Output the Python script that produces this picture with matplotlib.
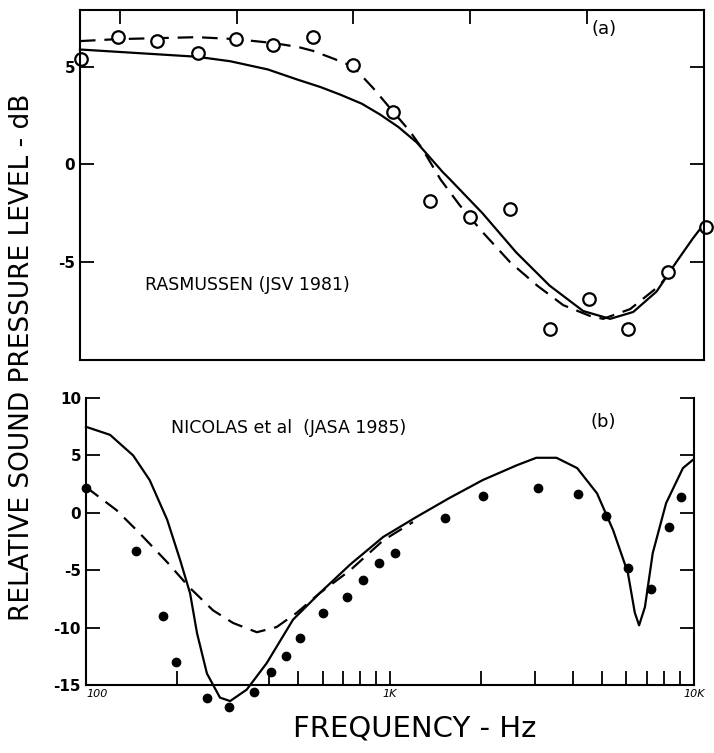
import numpy as np
import matplotlib
matplotlib.use("Agg")
from matplotlib import pyplot as plt

# panel (a) - Rasmussen
a_pts_f = [101, 132, 176, 239, 316, 416, 558, 750, 1007, 1323, 1774, 2387, 3203, 4275, 5690, 7660, 10150]
a_pts_v = [5.4, 6.5, 6.3, 5.7, 6.4, 6.1, 6.5, 5.1, 2.7, -1.9, -2.7, -2.3, -8.4, -6.9, -8.4, -5.5, -3.2]

a_solid_f = [100, 237, 303, 400, 496, 590, 681, 800, 915, 1050, 1200, 1455, 1530, 1950, 2500, 3200, 4100, 5000, 5930, 7050, 8150, 9200, 10050]
a_solid_v = [5.87, 5.5, 5.27, 4.85, 4.34, 3.95, 3.57, 3.1, 2.55, 1.9, 1.12, -0.4, -0.75, -2.5, -4.5, -6.2, -7.5, -7.9, -7.55, -6.5, -5.0, -3.8, -3.0]

a_dash_f = [100, 132, 237, 316, 416, 500, 558, 650, 750, 870, 1007, 1140, 1250, 1430, 1650, 1960, 2390, 2920, 3540, 4310, 4750, 5800, 7200, 7800]
a_dash_v = [6.3, 6.4, 6.5, 6.4, 6.2, 6.0, 5.8, 5.4, 5.0, 3.9, 2.7, 1.7, 0.8, -0.77, -2.1, -3.5, -5.0, -6.2, -7.2, -7.75, -7.9, -7.4, -6.2, -5.5]

# panel (b) - Nicolas et al
b_pts_f = [100, 146, 179, 198, 250, 295, 357, 406, 455, 506, 601, 720, 815, 922, 1040,
           1515, 2030, 3080, 4160, 5130, 6060, 7200, 8260, 9100]
b_pts_v = [2.2, -3.3, -9.0, -13.0, -16.1, -16.9, -15.6, -13.9, -12.5, -10.9, -8.7, -7.3, -5.85, -4.4, -3.5,
           -0.43, 1.46, 2.16, 1.64, -0.28, -4.8, -6.6, -1.2, 1.4]

b_solid_f = [100, 120, 143, 162, 185, 204, 220, 232, 250, 276, 298, 338, 393, 480, 587, 740, 950, 1220,
             1570, 2020, 2620, 3030, 3530, 4130, 4800, 5420, 6060, 6390, 6600, 6900, 7320, 8100, 9200, 9900]
b_solid_v = [7.5, 6.8, 5.0, 2.86, -0.6, -4.1, -7.0, -10.5, -14.0, -16.1, -16.4, -15.4, -13.1, -9.3, -7.0, -4.5, -2.1, -0.37,
             1.3, 2.86, 4.16, 4.8, 4.8, 3.9, 1.7, -1.5, -5.2, -8.7, -9.8, -8.2, -3.5, 0.85, 3.9, 4.6]

b_dash_f = [100, 126, 150, 185, 220, 262, 305, 365, 424, 494, 587, 740, 950, 1190]
b_dash_v = [2.25, 0.24, -1.76, -4.3, -6.55, -8.5, -9.6, -10.4, -9.95, -8.7, -7.0, -5.0, -2.4, -0.8]

fig = plt.figure(figsize=(7.14, 7.53), dpi=100)
plt.rcParams['font.family'] = ['DejaVu Sans']

dash = (0, (7, 4))

# ---- top panel (a)
ax1 = fig.add_axes([0.112, 0.522, 0.874, 0.465])
ax1.set_xscale('log')
ax1.set_xlim(100, 10000)
ax1.set_ylim(-10, 7.9)
ax1.plot(a_solid_f, a_solid_v, color='black', lw=1.6, clip_on=False)
ax1.plot(a_dash_f, a_dash_v, color='black', lw=1.6, linestyle=dash)
ax1.plot(a_pts_f, a_pts_v, 'o', mfc='white', mec='black', mew=1.6, ms=9, clip_on=False)
ax1.set_yticks([5, 0, -5])
ax1.set_yticklabels(['5', '0', '-5'], fontsize=11, fontweight='bold')
ax1.tick_params(axis='y', direction='in', length=10, width=1.3, right=True)
ax1.set_xticks([134, 318, 750, 1778, 4217])
ax1.set_xticks([], minor=True)
ax1.set_xticklabels([])
ax1.tick_params(axis='x', direction='in', length=10, width=1.3, top=True, bottom=False)
for s in ax1.spines.values():
    s.set_linewidth(1.5)
ax1.text(0.82, 0.93, '(a)', transform=ax1.transAxes, fontsize=13)
ax1.text(0.105, 0.2, 'RASMUSSEN (JSV 1981)', transform=ax1.transAxes, fontsize=12.5)

# ---- bottom panel (b)
ax2 = fig.add_axes([0.1204, 0.0903, 0.8515, 0.381])
ax2.set_xscale('log')
ax2.set_xlim(100, 10000)
ax2.set_ylim(-15, 10)
ax2.plot(b_solid_f, b_solid_v, color='black', lw=1.6, clip_on=False)
ax2.plot(b_dash_f, b_dash_v, color='black', lw=1.6, linestyle=dash, clip_on=False)
ax2.plot(b_pts_f, b_pts_v, 'o', color='black', ms=6, clip_on=False)
ax2.set_yticks([10, 5, 0, -5, -10, -15])
ax2.set_yticklabels(['10', '5', '0', '-5', '-10', '-15'], fontsize=11, fontweight='bold')
ax2.tick_params(axis='y', direction='in', length=10, width=1.3, right=True)
ax2.set_xticks([100, 1000, 10000])
ax2.set_xticklabels(['100', '1K', '10K'], fontsize=8, style='italic')
ax2.get_xticklabels()[0].set_ha('left')
ax2.set_xticks([200, 400, 500, 600, 700, 800, 900, 2000, 3000, 4000, 5000, 6000, 7000, 8000, 9000], minor=True)
ax2.tick_params(axis='x', which='both', direction='in', length=10, width=1.3, pad=3)
ax2.spines['top'].set_visible(False)
for s in ['left', 'right', 'bottom']:
    ax2.spines[s].set_linewidth(1.5)
ax2.text(0.83, 0.9, '(b)', transform=ax2.transAxes, fontsize=13)
ax2.text(0.14, 0.88, 'NICOLAS et al  (JASA 1985)', transform=ax2.transAxes, fontsize=12.5)

fig.text(0.031, 0.526, 'RELATIVE SOUND PRESSURE LEVEL - dB', rotation=90,
         ha='center', va='center', fontsize=19)
fig.text(0.581, 0.033, 'FREQUENCY - Hz', ha='center', va='center', fontsize=21)

fig.savefig('out.png', dpi=100)
